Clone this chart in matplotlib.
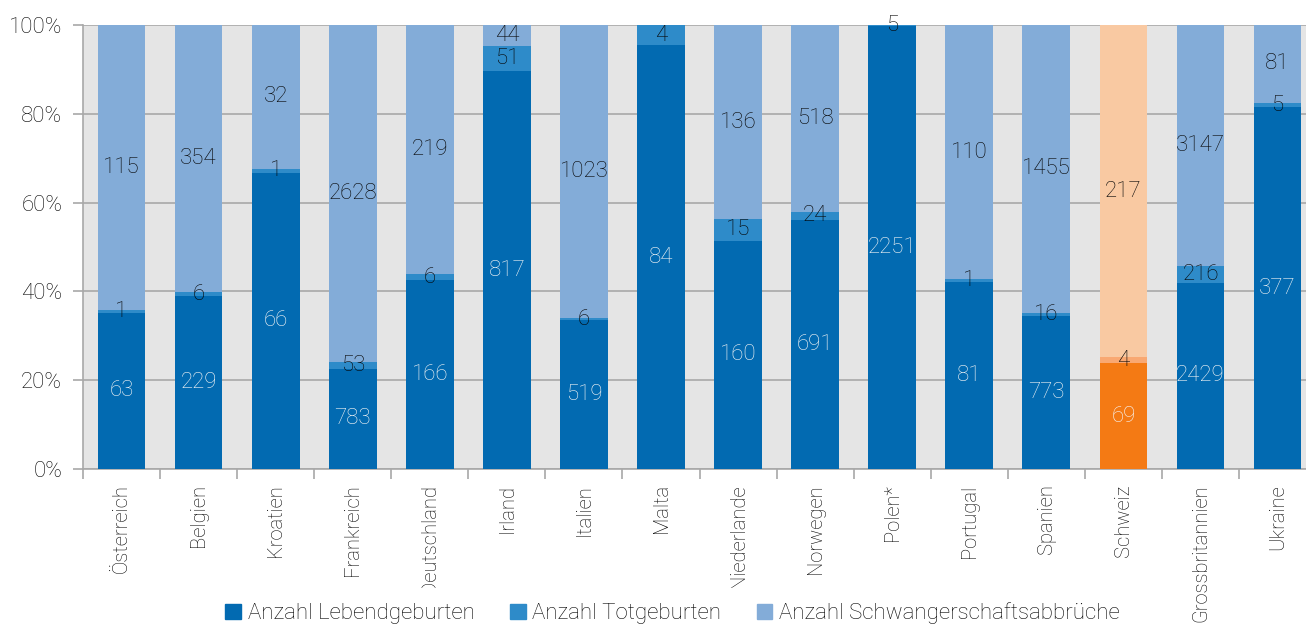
import matplotlib.pyplot as plt
import numpy as np
from matplotlib.patches import Patch

plt.rcParams["font.family"] = ["Roboto", "DejaVu Sans"]

countries = ["Österreich", "Belgien", "Kroatien", "Frankreich", "Deutschland", "Irland",
             "Italien", "Malta", "Niederlande", "Norwegen", "Polen*", "Portugal",
             "Spanien", "Schweiz", "Grossbritannien", "Ukraine"]
lebend = [63, 229, 66, 783, 166, 817, 519, 84, 160, 691, 2251, 81, 773, 69, 2429, 377]
tot = [1, 6, 1, 53, 6, 51, 6, 4, 15, 24, 5, 1, 16, 4, 216, 5]
abbrueche = [115, 354, 32, 2628, 219, 44, 1023, 0, 136, 518, 0, 110, 1455, 217, 3147, 81]

series = ["Anzahl Lebendgeburten", "Anzahl Totgeburten", "Anzahl Schwangerschaftsabbrüche"]
blue = ["#026ab1", "#2e8bc9", "#83acd8"]
orange = ["#f47a14", "#f9a872", "#f9c9a2"]
highlight = "Schweiz"

data = np.array([lebend, tot, abbrueche], dtype=float)
shares = data / data.sum(axis=0)

fig = plt.figure(figsize=(13.06, 6.27), dpi=100)
ax = fig.add_axes([83 / 1306, 158 / 627, 16 * 77.07 / 1306, 444 / 627])
ax.set_facecolor("#e5e5e5")

x = np.arange(len(countries))
bottom = np.zeros(len(countries))
for i in range(3):
    colors = [orange[i] if c == highlight else blue[i] for c in countries]
    ax.bar(x, shares[i], 0.62, bottom=bottom, color=colors, zorder=3)
    for j in range(len(countries)):
        if data[i, j] > 0:
            txt_color = "#f6f6f6" if i == 0 else "#050505"
            ax.text(x[j], bottom[j] + shares[i, j] / 2, f"{int(data[i, j])}",
                    ha="center", va="center", fontsize=16, fontweight="light",
                    color=txt_color, zorder=4)
    bottom += shares[i]

ax.set_xlim(-0.5, len(countries) - 0.5)
ax.set_ylim(0, 1)
ax.set_yticks(np.linspace(0, 1, 6))
ax.set_yticklabels([f"{int(v)}%" for v in np.linspace(0, 100, 6)],
                   fontsize=16, fontweight="light", color="#050505")
ax.yaxis.grid(True, color="#a8a8a8", linewidth=1.2, zorder=1)
ax.tick_params(axis="y", length=7, color="#a8a8a8", width=1.2, pad=8)

ax.set_xticks(x)
ax.set_xticklabels(countries, rotation=90, fontsize=14.5, fontweight="light",
                   color="#050505", va="top")
ax.set_xticks(np.arange(-0.5, len(countries), 1), minor=True)
ax.tick_params(axis="x", which="major", length=0, pad=11)
ax.tick_params(axis="x", which="minor", length=7, color="#a8a8a8", width=1.2)

for side in ["top", "right"]:
    ax.spines[side].set_visible(False)
for side in ["left", "bottom"]:
    ax.spines[side].set_color("#a8a8a8")
    ax.spines[side].set_linewidth(1.2)

# white legend box sits over the lower ends of the long country names
handles = [Patch(color=c) for c in blue]
leg = fig.legend(handles, series, loc="lower center", ncol=3,
                 bbox_to_anchor=(0.515, -0.019), borderaxespad=0,
                 frameon=True, facecolor="white",
                 edgecolor="white", framealpha=1, fancybox=False,
                 prop={"size": 16, "weight": "light"},
                 handlelength=0.7, handleheight=0.7, handletextpad=0.3,
                 columnspacing=1.6, borderpad=0.65)
for t in leg.get_texts():
    t.set_color("#050505")

fig.savefig("out.png", dpi=100)
